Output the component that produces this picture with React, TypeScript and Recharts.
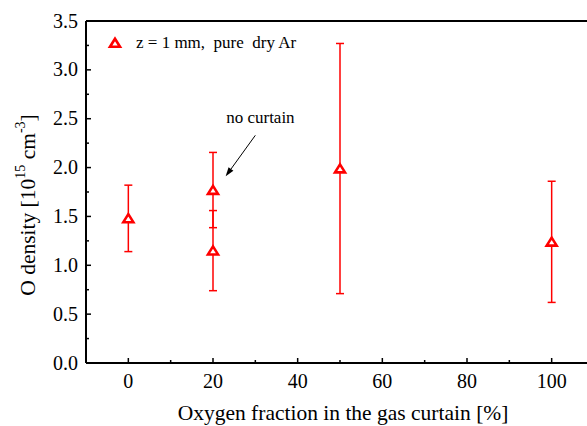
import React from 'react';
import {
  ScatterChart,
  Scatter,
  XAxis,
  YAxis,
  ErrorBar,
  ReferenceLine,
  ReferenceDot,
  Legend,
} from 'recharts';

// Messdaten: Sauerstoffanteil im Gasvorhang vs. O-Dichte
const fractions = [0, 20, 20, 50, 100];
const densities = [1.48, 1.77, 1.15, 1.99, 1.24];
const errors = [0.34, 0.385, 0.41, 1.28, 0.62];

const xTicks = [0, 10, 20, 30, 40, 50, 60, 70, 80, 90, 100, 110];
const yTicks = [0, 0.25, 0.5, 0.75, 1, 1.25, 1.5, 1.75, 2, 2.25, 2.5, 2.75, 3, 3.25, 3.5];

const legendLabel = 'z = 1 mm,  pure  dry Ar';
const noteText = 'no curtain';
const noteAt = { x: 31.2, y: 2.52 };
const arrowFrom = { x: 30, y: 2.33 };
const arrowTo = { x: 23, y: 1.91 };

const RED = '#ff0000';
const FONT = "'Liberation Serif', 'Times New Roman', serif";

const data = fractions.map((x, i) => ({ x, y: densities[i], err: errors[i] }));

const Triangle = (props: any) => {
  const { cx, cy } = props;
  if (cx == null || cy == null) return null;
  return (
    <polygon
      points={`${cx},${cy - 4.2} ${cx - 5},${cy + 3.8} ${cx + 5},${cy + 3.8}`}
      fill="#fff"
      stroke={RED}
      strokeWidth={2.6}
    />
  );
};

const BottomTick = (props: any) => {
  const { x, y, payload } = props;
  const major = payload.value % 20 === 0;
  return (
    <g>
      <line x1={x} x2={x} y1={y} y2={y - (major ? 5 : 3)} stroke="#000" strokeWidth={1.5} />
      {major && (
        <text x={x} y={y + 25} textAnchor="middle" fontSize={20} fontFamily={FONT} fill="#000">
          {payload.value}
        </text>
      )}
    </g>
  );
};

const TopTick = (props: any) => {
  const { x, y, payload } = props;
  const major = payload.value % 20 === 0;
  return <line x1={x} x2={x} y1={y} y2={y + (major ? 5 : 3)} stroke="#000" strokeWidth={1.5} />;
};

const LeftTick = (props: any) => {
  const { x, y, payload, index } = props;
  const major = index % 2 === 0;
  return (
    <g>
      <line x1={x} x2={x + (major ? 5 : 3)} y1={y} y2={y} stroke="#000" strokeWidth={1.5} />
      {major && (
        <text x={x - 8} y={y + 6.5} textAnchor="end" fontSize={20} fontFamily={FONT} fill="#000">
          {payload.value.toFixed(1)}
        </text>
      )}
    </g>
  );
};

const Arrow = (p: any) => {
  const { x1, y1, x2, y2 } = p;
  const ang = Math.atan2(y2 - y1, x2 - x1);
  const L = 9;
  const W = 3;
  const bx = x2 - L * Math.cos(ang);
  const by = y2 - L * Math.sin(ang);
  const px = -Math.sin(ang) * W;
  const py = Math.cos(ang) * W;
  return (
    <g>
      <line x1={x1} y1={y1} x2={bx} y2={by} stroke="#000" strokeWidth={1} />
      <polygon points={`${x2},${y2} ${bx + px},${by + py} ${bx - px},${by - py}`} fill="#000" />
    </g>
  );
};

const YTitle = (props: any) => {
  const { viewBox } = props;
  const cx = viewBox.x + 28;
  const cy = viewBox.y + viewBox.height / 2 + 13;
  return (
    <text
      transform={`translate(${cx},${cy}) rotate(-90)`}
      textAnchor="middle"
      fontSize={21.5}
      fontFamily={FONT}
      fill="#000"
      dominantBaseline="central"
    >
      O density [10
      <tspan fontSize={14} dy={-8}>15</tspan>
      <tspan dy={8}> cm</tspan>
      <tspan fontSize={14} dy={-8}>-3</tspan>
      <tspan dy={8}>]</tspan>
    </text>
  );
};

const XTitle = (props: any) => {
  const { viewBox } = props;
  return (
    <text
      x={viewBox.x + viewBox.width / 2 + 3}
      y={viewBox.y + 57}
      textAnchor="middle"
      fontSize={21.5}
      fontFamily={FONT}
      fill="#000"
    >
      Oxygen fraction in the gas curtain [%]
    </text>
  );
};

const LegendBox = () => (
  <div style={{ display: 'flex', alignItems: 'center', fontFamily: FONT, fontSize: 17, color: '#000' }}>
    <svg width={22} height={14} style={{ marginRight: 10 }}>
      <polygon points="11,2.8 6,10.8 16,10.8" fill="#fff" stroke={RED} strokeWidth={2.6} />
    </svg>
    <span style={{ whiteSpace: 'pre' }}>{legendLabel}</span>
  </div>
);

export default function App() {
  return (
    <div
      style={{
        position: 'absolute',
        left: 0,
        top: 0,
        width: 587,
        height: 426,
        overflow: 'hidden',
        background: '#fff',
      }}
    >
      <ScatterChart width={640} height={426} margin={{ top: 20, right: 46, bottom: 0, left: 0 }}>
        <XAxis
          type="number"
          dataKey="x"
          domain={[-10, 110]}
          ticks={xTicks}
          interval={0}
          tickSize={0}
          tickMargin={0}
          tickLine={false}
          axisLine={{ stroke: '#000', strokeWidth: 2 }}
          height={63}
          tick={(p: any) => <BottomTick {...p} />}
          label={(p: any) => <XTitle {...p} />}
          allowDataOverflow
        />
        <XAxis
          xAxisId="top"
          orientation="top"
          type="number"
          domain={[-10, 110]}
          ticks={xTicks}
          interval={0}
          tickSize={0}
          tickMargin={0}
          tickLine={false}
          axisLine={{ stroke: '#000', strokeWidth: 2 }}
          height={1}
          tick={(p: any) => <TopTick {...p} />}
          allowDataOverflow
        />
        <YAxis
          type="number"
          dataKey="y"
          domain={[0, 3.5]}
          ticks={yTicks}
          interval={0}
          tickSize={0}
          tickMargin={0}
          tickLine={false}
          axisLine={{ stroke: '#000', strokeWidth: 2 }}
          width={86}
          tick={(p: any) => <LeftTick {...p} />}
          label={(p: any) => <YTitle {...p} />}
          allowDataOverflow
        />
        <Legend
          layout="vertical"
          align="center"
          verticalAlign="middle"
          wrapperStyle={{ top: 33, left: 104, width: 'auto', height: 'auto' }}
          content={() => <LegendBox />}
        />
        <ReferenceLine segment={[arrowFrom, arrowTo]} shape={(p: any) => <Arrow {...p} />} />
        <ReferenceDot
          x={noteAt.x}
          y={noteAt.y}
          r={0}
          fill="none"
          stroke="none"
          label={{ value: noteText, position: 'center', fontSize: 17, fontFamily: FONT, fill: '#000' }}
        />
        <Scatter data={data} dataKey="y" name={legendLabel} shape={(p: any) => <Triangle {...p} />} isAnimationActive={false}>
          <ErrorBar dataKey="err" direction="y" width={4} stroke={RED} strokeWidth={1.5} isAnimationActive={false} />
        </Scatter>
      </ScatterChart>
    </div>
  );
}
